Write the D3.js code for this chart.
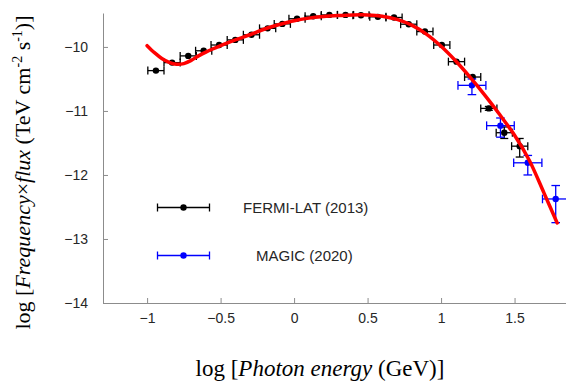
<!DOCTYPE html>
<head>
<style type="text/css">
	body { margin: 0; background: #fff; }
	.tick text { font-family: "Liberation Sans", Arial, sans-serif; font-size: 14px; fill: #262626; }
	.axis path, .axis line { stroke: #8c8c8c; }
</style>
</head>
<script src="https://d3js.org/d3.v7.min.js"></script>
<body>
	<svg width="566" height="387"></svg>
	<script>
	// Fermi-LAT (2013) points, log E (GeV) vs log nuFnu
	var fermiX = [-0.94, -0.83, -0.72, -0.615, -0.51, -0.40, -0.29, -0.18, -0.08, 0.02, 0.13, 0.24,
	              0.35, 0.455, 0.57, 0.68, 0.78, 0.89, 1.005, 1.105, 1.215, 1.325, 1.43, 1.535];
	var fermiY = [-10.37, -10.245, -10.14, -10.06, -9.97, -9.89, -9.81, -9.71, -9.64, -9.56, -9.52, -9.50,
	              -9.50, -9.505, -9.53, -9.54, -9.645, -9.76, -9.97, -10.23, -10.47, -10.96, -11.34, -11.55];
	var fermiXErr = [0.055, 0.055, 0.055, 0.055, 0.055, 0.055, 0.055, 0.055, 0.055, 0.055, 0.055, 0.055,
	                 0.055, 0.055, 0.055, 0.055, 0.055, 0.055, 0.055, 0.055, 0.055, 0.055, 0.055, 0.055];
	var fermiYUp = [0, 0, 0, 0, 0, 0, 0, 0, 0, 0, 0, 0, 0, 0, 0, 0, 0, 0, 0, 0, 0, 0.03, 0.09, 0.12];
	var fermiYDown = [0, 0, 0, 0, 0, 0, 0, 0, 0, 0, 0, 0, 0, 0, 0, 0, 0, 0, 0, 0, 0, 0.03, 0.09, 0.17];

	// MAGIC (2020) points
	var magicX = [1.21, 1.404, 1.59, 1.78];
	var magicY = [-10.60, -11.23, -11.81, -12.375];
	var magicXErr = [0.095, 0.094, 0.096, 0.09];
	var magicYUp = [0.10, 0.12, 0.115, 0.21];
	var magicYDown = [0.145, 0.18, 0.19, 0.37];

	// model curve
	var modelX = [-1.0, -0.95, -0.9, -0.85, -0.8, -0.75, -0.7, -0.65, -0.6, -0.5, -0.4, -0.3, -0.2, -0.1,
	              0, 0.1, 0.2, 0.3, 0.4, 0.5, 0.6, 0.7, 0.8, 0.9, 1.0, 1.1, 1.2, 1.3, 1.4, 1.5, 1.6, 1.7, 1.79];
	var modelY = [-9.98, -10.09, -10.18, -10.24, -10.27, -10.26, -10.21, -10.14, -10.08, -9.98, -9.89, -9.81, -9.72, -9.65,
	              -9.59, -9.55, -9.525, -9.51, -9.50, -9.50, -9.52, -9.57, -9.66, -9.80, -9.99, -10.22, -10.48, -10.76, -11.06, -11.38, -11.77, -12.28, -12.75];

	var xTicks = [-1, -0.5, 0, 0.5, 1, 1.5];
	var yTicks = [-14, -13, -12, -11, -10];
	var legendNames = ["FERMI-LAT (2013)", "MAGIC (2020)"];

	var svg = d3.select("svg");

	var x = d3.scaleLinear().domain([-1.3, 1.85]).range([103, 566]);
	var y = d3.scaleLinear().domain([-14, -9.47]).range([303, 13]);

	var fmt = function(d) { return d < 0 ? "\u2212" + Math.abs(d) : String(d); };

	svg.append("g")
	  .attr("class", "axis")
	  .attr("transform", "translate(0,303)")
	  .call(d3.axisBottom(x).tickValues(xTicks).tickSizeInner(-5).tickSizeOuter(0).tickPadding(10).tickFormat(fmt));

	svg.append("g")
	  .attr("class", "axis")
	  .attr("transform", "translate(103,0)")
	  .call(d3.axisLeft(y).tickValues(yTicks).tickSizeInner(-5).tickSizeOuter(0).tickPadding(15).tickFormat(fmt));

	function drawErrors(g, xs, ys, xe, yu, yd, color, cap) {
	  var pts = xs.map(function(d, i) { return {x: d, y: ys[i], xe: xe[i], yu: yu[i], yd: yd[i]}; });
	  var p = g.append("g").attr("stroke", color).attr("stroke-width", 1.3).attr("fill", "none");
	  pts.forEach(function(d) {
	    var cx = x(d.x), cy = y(d.y), x0 = x(d.x - d.xe), x1 = x(d.x + d.xe);
	    p.append("line").attr("x1", x0).attr("x2", x1).attr("y1", cy).attr("y2", cy);
	    p.append("line").attr("x1", x0).attr("x2", x0).attr("y1", cy - cap).attr("y2", cy + cap);
	    p.append("line").attr("x1", x1).attr("x2", x1).attr("y1", cy - cap).attr("y2", cy + cap);
	    if (d.yu > 0 || d.yd > 0) {
	      var y0 = y(d.y + d.yu), y1 = y(d.y - d.yd);
	      p.append("line").attr("x1", cx).attr("x2", cx).attr("y1", y0).attr("y2", y1);
	      p.append("line").attr("x1", cx - cap).attr("x2", cx + cap).attr("y1", y0).attr("y2", y0);
	      p.append("line").attr("x1", cx - cap).attr("x2", cx + cap).attr("y1", y1).attr("y2", y1);
	    }
	  });
	  g.append("g").selectAll("circle")
	    .data(pts)
	    .enter().append("circle")
	    .attr("cx", function(d) { return x(d.x); })
	    .attr("cy", function(d) { return y(d.y); })
	    .attr("r", 3.2)
	    .attr("fill", color);
	}

	drawErrors(svg.append("g"), fermiX, fermiY, fermiXErr, fermiYUp, fermiYDown, "#000", 4);
	drawErrors(svg.append("g"), magicX, magicY, magicXErr, magicYUp, magicYDown, "#0000ff", 4.3);

	var line = d3.line()
	  .x(function(d) { return x(d[0]); })
	  .y(function(d) { return y(d[1]); })
	  .curve(d3.curveCatmullRom);

	svg.append("path")
	  .datum(modelX.map(function(d, i) { return [d, modelY[i]]; }))
	  .attr("d", line)
	  .attr("fill", "none")
	  .attr("stroke", "#ff0000")
	  .attr("stroke-width", 3.5)
	  .attr("stroke-linecap", "round");

	// legend
	var legend = [
	  {name: legendNames[0], color: "#000", y: 207.5, tx: 243},
	  {name: legendNames[1], color: "#0000ff", y: 255.5, tx: 256}
	];
	legend.forEach(function(l) {
	  var g = svg.append("g").attr("stroke", l.color).attr("stroke-width", 1.3);
	  g.append("line").attr("x1", 157.5).attr("x2", 209.5).attr("y1", l.y).attr("y2", l.y);
	  g.append("line").attr("x1", 157.5).attr("x2", 157.5).attr("y1", l.y - 4).attr("y2", l.y + 4);
	  g.append("line").attr("x1", 209.5).attr("x2", 209.5).attr("y1", l.y - 4).attr("y2", l.y + 4);
	  svg.append("circle").attr("cx", 183.5).attr("cy", l.y).attr("r", 3.2).attr("fill", l.color);
	  svg.append("text")
	    .attr("x", l.tx).attr("y", l.y + 5.5)
	    .attr("font-family", "'Liberation Sans', Arial, sans-serif")
	    .attr("font-size", 15)
	    .attr("fill", "#262626")
	    .text(l.name);
	});

	// axis titles
	var xt = svg.append("text")
	  .attr("x", 320).attr("y", 375.5)
	  .attr("text-anchor", "middle")
	  .attr("font-family", "'Liberation Serif', 'Times New Roman', serif")
	  .attr("font-size", 23)
	  .attr("fill", "#000");
	xt.append("tspan").text("log [");
	xt.append("tspan").attr("font-style", "italic").text("Photon energy");
	xt.append("tspan").text(" (GeV)]");

	var yt = svg.append("text")
	  .attr("transform", "translate(30,172.5) rotate(-90)")
	  .attr("text-anchor", "middle")
	  .attr("font-family", "'Liberation Serif', 'Times New Roman', serif")
	  .attr("font-size", 22)
	  .attr("fill", "#000");
	yt.append("tspan").text("log [");
	yt.append("tspan").attr("font-style", "italic").text("Frequency");
	yt.append("tspan").text("\u00d7");
	yt.append("tspan").attr("font-style", "italic").text("flux");
	yt.append("tspan").text(" (TeV cm");
	yt.append("tspan").attr("dy", -8).attr("font-size", 14).text("-2");
	yt.append("tspan").attr("dy", 8).text(" s");
	yt.append("tspan").attr("dy", -8).attr("font-size", 14).text("-1");
	yt.append("tspan").attr("dy", 8).text(")]");
	</script>
</body>
